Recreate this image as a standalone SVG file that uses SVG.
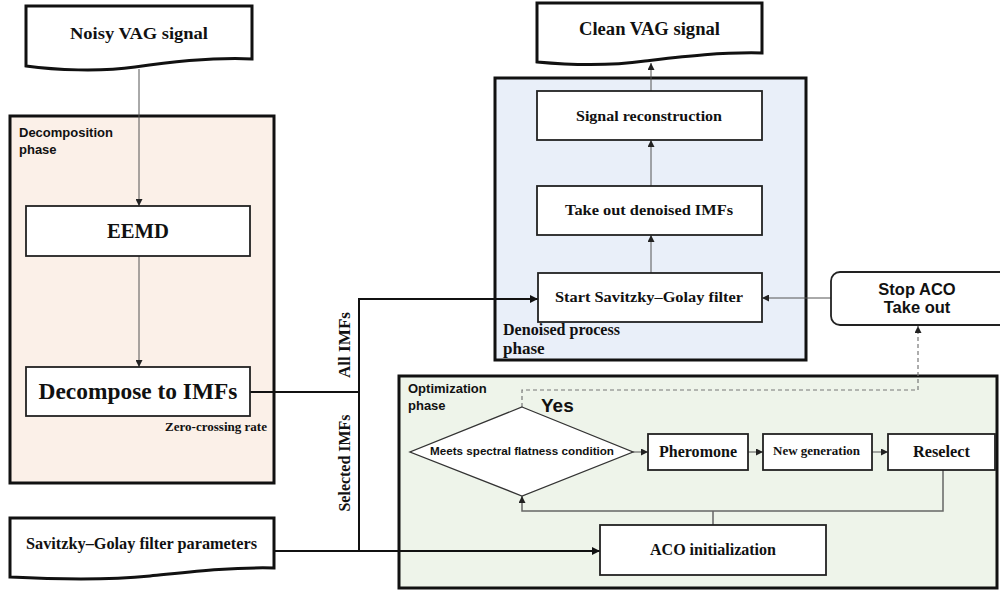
<svg xmlns="http://www.w3.org/2000/svg" width="1000" height="591" viewBox="0 0 1000 591">
<defs>
<style>
.phase{stroke:#111;stroke-width:3}
.box{fill:#fff;stroke:#222;stroke-width:1.8}
.doc{fill:#fff;stroke:#111;stroke-width:3}
.serif{font-family:"Liberation Serif","Times New Roman",serif;font-weight:bold;fill:#111}
.sans{font-family:"Liberation Sans",Arial,sans-serif;font-weight:bold;fill:#111}
.thin{fill:none;stroke:#555;stroke-width:1}
.thick{fill:none;stroke:#111;stroke-width:2}
.loop{fill:none;stroke:#666;stroke-width:1.5}
.dash{fill:none;stroke:#777;stroke-width:1.2;stroke-dasharray:4 3}
</style>
<marker id="ah" viewBox="0 0 10 10" refX="10" refY="5" markerWidth="8" markerHeight="8" markerUnits="userSpaceOnUse" orient="auto">
<path d="M0,0 L10,5 L0,10 Z" fill="#111"/>
</marker>
<marker id="ahs" viewBox="0 0 10 10" refX="10" refY="5" markerWidth="7" markerHeight="7" markerUnits="userSpaceOnUse" orient="auto">
<path d="M0,0 L10,5 L0,10 Z" fill="#222"/>
</marker>
</defs>

<!-- phase containers -->
<g id="decomposition-phase">
<rect x="10" y="116" width="264" height="367" fill="#fbf0e8" class="phase"/>
<text class="sans" x="19" y="137" font-size="13">Decomposition</text>
<text class="sans" x="19" y="154" font-size="13">phase</text>
</g>
<g id="denoised-phase">
<rect x="495" y="78" width="311" height="282" fill="#e9eff9" class="phase"/>
<text class="serif" x="503" y="335" font-size="17" textLength="117" lengthAdjust="spacingAndGlyphs">Denoised process</text>
<text class="serif" x="503" y="354" font-size="17">phase</text>
</g>
<g id="optimization-phase">
<rect x="399" y="376" width="598" height="212" fill="#eef4ea" class="phase"/>
<text class="sans" x="408" y="393" font-size="13">Optimization</text>
<text class="sans" x="408" y="410" font-size="13">phase</text>
</g>

<!-- connectors -->
<g id="connectors">
<line class="thin" x1="139" y1="69" x2="139" y2="206" marker-end="url(#ahs)"/>
<line class="thin" x1="139" y1="256" x2="139" y2="367" marker-end="url(#ahs)"/>
<polyline class="thick" points="250,392 359,392"/>
<polyline class="thick" points="359,551 359,299 538,299" marker-end="url(#ah)"/>
<polyline class="thick" points="274,551 600,551" marker-end="url(#ah)"/>
<line class="thin" x1="651" y1="273" x2="651" y2="235" marker-end="url(#ahs)"/>
<line class="thin" x1="651" y1="186" x2="651" y2="140" marker-end="url(#ahs)"/>
<line class="thin" x1="651" y1="91" x2="651" y2="63" marker-end="url(#ahs)"/>
<line class="thin" x1="831" y1="298" x2="762" y2="298" stroke="#777" marker-end="url(#ahs)"/>
<polyline class="dash" points="522,407 522,390 918,390 918,326" marker-end="url(#ahs)"/>
<line class="thin" x1="633" y1="452" x2="648" y2="452" marker-end="url(#ahs)"/>
<line class="thin" x1="748" y1="452" x2="763" y2="452" marker-end="url(#ahs)"/>
<line class="thin" x1="872" y1="452" x2="888" y2="452" marker-end="url(#ahs)"/>
<polyline class="loop" points="943,470 943,511 522,511 522,496" marker-end="url(#ahs)"/>
<line class="loop" x1="713" y1="525" x2="713" y2="511"/>
<text class="serif" font-size="16" text-anchor="middle" textLength="66" lengthAdjust="spacingAndGlyphs" transform="translate(350,345) rotate(-90)">All  IMFs</text>
<text class="serif" font-size="16" text-anchor="middle" textLength="97" lengthAdjust="spacingAndGlyphs" transform="translate(350,463) rotate(-90)">Selected IMFs</text>
</g>

<!-- nodes -->
<g id="noisy-vag">
<path class="doc" d="M26,6 H252 V59 C210,57 170,62 135,67 C100,72 55,70 26,66 Z"/>
<text class="serif" x="139" y="39" font-size="17.5" text-anchor="middle" textLength="138" lengthAdjust="spacingAndGlyphs">Noisy VAG signal</text>
</g>
<g id="eemd">
<rect class="box" x="26" y="206" width="224" height="50"/>
<text class="serif" x="138" y="238" font-size="21" text-anchor="middle" textLength="62" lengthAdjust="spacingAndGlyphs">EEMD</text>
</g>
<g id="decompose">
<rect class="box" x="26" y="367" width="224" height="49"/>
<text class="serif" x="138" y="399" font-size="23" text-anchor="middle" textLength="199" lengthAdjust="spacingAndGlyphs">Decompose to IMFs</text>
<text class="serif" x="216" y="431" font-size="12" text-anchor="middle" textLength="102" lengthAdjust="spacingAndGlyphs">Zero-crossing rate</text>
</g>
<g id="sg-params">
<path class="doc" d="M10,518 H274 V568 C230,567 190,572 150,576 C100,581 50,579 10,577 Z"/>
<text class="serif" x="141.5" y="549" font-size="16" text-anchor="middle" textLength="231" lengthAdjust="spacingAndGlyphs">Savitzky–Golay  filter parameters</text>
</g>
<g id="clean-vag">
<path class="doc" d="M537,3 H762 V53 C720,52 680,57 645,61 C610,66 570,65 537,62 Z"/>
<text class="serif" x="649.5" y="35" font-size="18" text-anchor="middle" textLength="141" lengthAdjust="spacingAndGlyphs">Clean VAG signal</text>
</g>
<g id="signal-reconstruction">
<rect class="box" x="537" y="91" width="225" height="49"/>
<text class="serif" x="649" y="121" font-size="15" text-anchor="middle" textLength="146" lengthAdjust="spacingAndGlyphs">Signal reconstruction</text>
</g>
<g id="take-out-imfs">
<rect class="box" x="537" y="186" width="225" height="49"/>
<text class="serif" x="649" y="215" font-size="15" text-anchor="middle" textLength="168" lengthAdjust="spacingAndGlyphs">Take out denoised IMFs</text>
</g>
<g id="start-sg">
<rect class="box" x="538" y="273" width="224" height="49"/>
<text class="serif" x="649" y="302" font-size="14.5" text-anchor="middle" textLength="188" lengthAdjust="spacingAndGlyphs">Start Savitzky–Golay  filter</text>
</g>
<g id="stop-aco">
<rect x="831" y="272" width="180" height="53" rx="9" fill="#fff" stroke="#222" stroke-width="1.8"/>
<text class="sans" x="917" y="295" font-size="16.5" text-anchor="middle">Stop ACO</text>
<text class="sans" x="917" y="313" font-size="16.5" text-anchor="middle">Take out</text>
</g>
<g id="condition">
<polygon points="522,407 633,452 522,496 410,452" fill="#fff" stroke="#333" stroke-width="1.3"/>
<text class="sans" x="522" y="455" font-size="11.5" text-anchor="middle" textLength="184" lengthAdjust="spacingAndGlyphs">Meets spectral flatness condition</text>
<text class="sans" x="541" y="412" font-size="19">Yes</text>
</g>
<g id="pheromone">
<rect class="box" x="648" y="434" width="100" height="36"/>
<text class="serif" x="698" y="457" font-size="16" text-anchor="middle" textLength="78" lengthAdjust="spacingAndGlyphs">Pheromone</text>
</g>
<g id="new-generation">
<rect class="box" x="763" y="434" width="109" height="36"/>
<text class="serif" x="816.5" y="455" font-size="12" text-anchor="middle" textLength="87" lengthAdjust="spacingAndGlyphs">New generation</text>
</g>
<g id="reselect">
<rect class="box" x="888" y="434" width="107" height="36"/>
<text class="serif" x="941.5" y="457" font-size="16" text-anchor="middle" textLength="57" lengthAdjust="spacingAndGlyphs">Reselect</text>
</g>
<g id="aco-init">
<rect class="box" x="600" y="525" width="226" height="50"/>
<text class="serif" x="713" y="555" font-size="16" text-anchor="middle" textLength="126" lengthAdjust="spacingAndGlyphs">ACO initialization</text>
</g>
</svg>
